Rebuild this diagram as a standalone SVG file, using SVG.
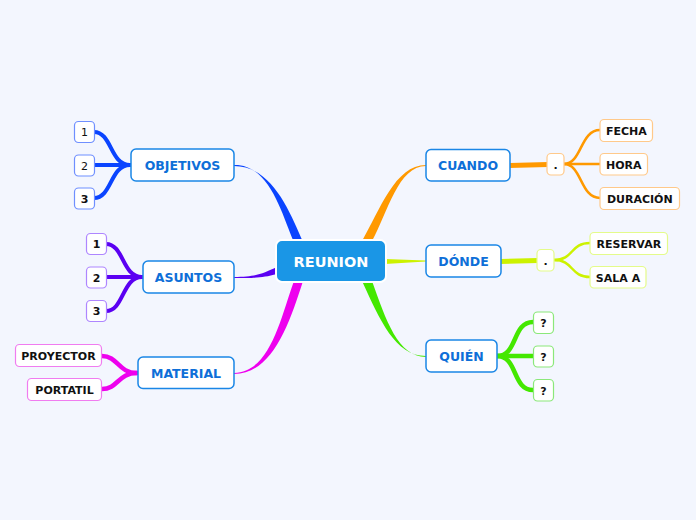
<svg xmlns="http://www.w3.org/2000/svg" width="696" height="520" viewBox="0 0 696 520">
<style>
text{font-family:"DejaVu Sans","Verdana",sans-serif;text-anchor:middle}
.main rect{fill:#fff;stroke:#1a86e6;stroke-width:1.5}
.main text{fill:#0e6fd8;font-weight:bold;font-size:12.5px}
.leaf rect{fill:#fff;stroke-width:1.2}
.leaf text{fill:#111;font-weight:bold;font-size:11px}
.leaf text.norm{font-weight:normal}
.sub{fill:none;stroke-linecap:round}
</style>
<rect width="696" height="520" fill="#f3f6fe"/>
<g id="connectors">
<path d="M234,165 C270,164 282,215 294,242 L303,242 C290,212 272,166 234,166 Z" fill="#0a44ff"/>
<path d="M234,277 C255,277 262,274 277,267 L277,274 C262,278 255,278 234,278 Z" fill="#5b00f2"/>
<path d="M234,373 C270,372 280,320 294,281 L303,281 C289,325 272,374 234,374 Z" fill="#ee00ee"/>
<path d="M426,165 C395,165 380,210 362,241 L372,241 C388,212 398,166 426,166 Z" fill="#ff9900"/>
<path d="M426,260.5 L385,259 L385,264 L426,261.5 Z" fill="#ccf200"/>
<path d="M426,356 C395,356 380,320 362,281 L372,281 C386,320 398,357 426,357 Z" fill="#44e800"/>
<g class="sub" stroke="#0a44ff" stroke-width="4">
<path d="M94,132 C112,132 110,165 130,165"/>
<path d="M94,165 L130,165"/>
<path d="M94,198 C112,198 110,165 130,165"/>
</g>
<g class="sub" stroke="#5b00f2" stroke-width="4">
<path d="M106,244 C124,244 122,277 142,277"/>
<path d="M106,277 L142,277"/>
<path d="M106,311 C124,311 122,277 142,277"/>
</g>
<g class="sub" stroke="#ee00ee" stroke-width="4.5">
<path d="M102,356 C118,356 118,373 137,373"/>
<path d="M102,389 C118,389 118,373 137,373"/>
</g>
<path d="M510,164 L547,163 L547,166 L510,167 Z" fill="#ff9900" stroke="#ff9900" stroke-width="2"/>
<g class="sub" stroke="#ff9900" stroke-width="2.5">
<path d="M564,164 C582,164 580,130 600,130"/>
<path d="M564,164 L600,164"/>
<path d="M564,164 C582,164 580,198 600,198"/>
</g>
<path d="M500,260 L537,259 L537,262 L500,263 Z" fill="#ccf200" stroke="#ccf200" stroke-width="2"/>
<g class="sub" stroke="#ccf200" stroke-width="2.5">
<path d="M554,260 C574,260 570,243 590,243"/>
<path d="M554,260 C574,260 570,277 590,277"/>
</g>
<g class="sub" stroke="#44e800" stroke-width="4.5">
<path d="M497,356 C518,356 512,322 533,322"/>
<path d="M497,356 L533,356"/>
<path d="M497,356 C518,356 512,390 533,390"/>
</g>
</g>
<g id="reunion">
<rect x="276" y="240" width="110" height="42" rx="6" fill="#1a96e6" stroke="#fff" stroke-width="2"/>
<text x="331" y="266.5" fill="#fff" font-weight="bold" font-size="14.5">REUNION</text>
</g>
<g id="objetivos" class="main"><rect x="131" y="149" width="103" height="32" rx="5"/><text x="182.5" y="169.5">OBJETIVOS</text></g>
<g id="asuntos" class="main"><rect x="143" y="261" width="91" height="32" rx="5"/><text x="188.5" y="281.5">ASUNTOS</text></g>
<g id="material" class="main"><rect x="138" y="357" width="96" height="31.5" rx="5"/><text x="186" y="377.5">MATERIAL</text></g>
<g id="cuando" class="main"><rect x="426" y="149.5" width="84" height="31.5" rx="5"/><text x="468" y="169.5">CUANDO</text></g>
<g id="donde" class="main"><rect x="426" y="245" width="75" height="32" rx="5"/><text x="463.5" y="265.5">DÓNDE</text></g>
<g id="quien" class="main"><rect x="426" y="340" width="71" height="32" rx="5"/><text x="461.5" y="360.5">QUIÉN</text></g>
<g id="obj1" class="leaf"><rect x="74.5" y="121.5" width="20" height="21" rx="4" stroke="#6f8fff"/><text class="norm" x="84.5" y="136">1</text></g>
<g id="obj2" class="leaf"><rect x="74.5" y="155" width="20" height="21" rx="4" stroke="#6f8fff"/><text class="norm" x="84.5" y="169.5">2</text></g>
<g id="obj3" class="leaf"><rect x="74.5" y="188" width="20" height="21" rx="4" stroke="#6f8fff"/><text x="84.5" y="202.5">3</text></g>
<g id="asu1" class="leaf"><rect x="86.5" y="233.5" width="20" height="21" rx="4" stroke="#ae86ff"/><text x="96.5" y="248">1</text></g>
<g id="asu2" class="leaf"><rect x="86.5" y="267" width="20" height="21" rx="4" stroke="#ae86ff"/><text x="96.5" y="281.5">2</text></g>
<g id="asu3" class="leaf"><rect x="86.5" y="300.5" width="20" height="21" rx="4" stroke="#ae86ff"/><text x="96.5" y="315">3</text></g>
<g id="proyector" class="leaf"><rect x="15.5" y="344.5" width="86" height="22" rx="4" stroke="#f07cf0"/><text x="58.5" y="359.5">PROYECTOR</text></g>
<g id="portatil" class="leaf"><rect x="27.5" y="378.5" width="74" height="22" rx="4" stroke="#f07cf0"/><text x="64.5" y="393.5">PORTATIL</text></g>
<g id="cuando-dot" class="leaf"><rect x="547" y="153.5" width="17" height="21.5" rx="4" stroke="#ffc98a"/><text x="555.5" y="169">.</text></g>
<g id="fecha" class="leaf"><rect x="600" y="119.5" width="52.5" height="22" rx="4" stroke="#ffc98a"/><text x="626.3" y="134.5">FECHA</text></g>
<g id="hora" class="leaf"><rect x="600" y="153.5" width="47.5" height="21.5" rx="4" stroke="#ffc98a"/><text x="623.8" y="168.5">HORA</text></g>
<g id="duracion" class="leaf"><rect x="600" y="187.5" width="79.5" height="22" rx="4" stroke="#ffc98a"/><text x="639.8" y="202.5">DURACIÓN</text></g>
<g id="donde-dot" class="leaf"><rect x="537" y="249.5" width="17" height="21.5" rx="4" stroke="#e4fb8a"/><text x="545.5" y="265">.</text></g>
<g id="reservar" class="leaf"><rect x="590" y="232.5" width="77.5" height="22" rx="4" stroke="#e4fb8a"/><text x="628.8" y="247.5">RESERVAR</text></g>
<g id="sala" class="leaf"><rect x="590" y="266.5" width="56" height="21.5" rx="4" stroke="#e4fb8a"/><text x="618" y="281.5">SALA A</text></g>
<g id="q1" class="leaf"><rect x="533.5" y="312" width="20" height="21.5" rx="4" stroke="#8be87a"/><text x="543.5" y="327">?</text></g>
<g id="q2" class="leaf"><rect x="533.5" y="346" width="20" height="21" rx="4" stroke="#8be87a"/><text x="543.5" y="361">?</text></g>
<g id="q3" class="leaf"><rect x="533.5" y="379.5" width="20" height="21.5" rx="4" stroke="#8be87a"/><text x="543.5" y="394.5">?</text></g>
</svg>
